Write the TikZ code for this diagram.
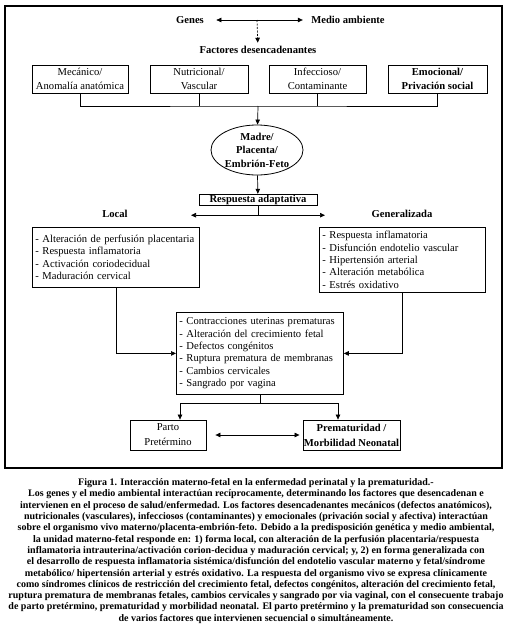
\documentclass[tikz,border=0pt]{standalone}
\usepackage{fontspec}
\setmainfont{Liberation Serif}
\usetikzlibrary{arrows.meta,shapes.geometric}

\begin{document}
\begin{tikzpicture}[x=1pt,y=-1pt,>={Triangle[length=5pt,width=4.5pt]},
  every node/.style={font=\fontsize{10.6}{12.4}\selectfont},
  head/.style={font=\fontsize{10.6}{12.4}\selectfont\bfseries},
  link/.style={line width=.7pt},
  factor/.style={draw,line width=.8pt,minimum width=97pt,minimum height=28pt,
    align=center,inner sep=1pt,font=\fontsize{10.6}{13.5}\selectfont},
  listbox/.style={draw,line width=.8pt,align=left,inner xsep=3pt,
    text width=161pt,anchor=north west},
  outcome/.style={draw,line width=.8pt,minimum height=30pt,align=center,
    inner sep=1pt,font=\fontsize{10.6}{15}\selectfont}]
  \useasboundingbox (0,0) rectangle (519,635);
  \draw[line width=1.1pt] (5,6) rectangle (502,468);

  \node[head] (genes) at (190,20) {Genes};
  \node[head] (medio) at (348,20) {Medio ambiente};
  \draw[<->,link] ([xshift=9pt]genes.east) -- coordinate[pos=.47] (mid)
    ([xshift=-5pt]medio.west);
  \node[head] (factores) at (258,50) {Factores desencadenantes};
  \draw[->,link,dash pattern=on 2pt off 1.5pt] (mid) -- (factores);

  \node[factor,minimum width=96pt] (mec) at (80,79) {Mecánico/\\Anomalía anatómica};
  \node[factor,minimum width=98pt] (nut) at (199,79) {Nutricional/\\Vascular};
  \node[factor] (inf) at (317.5,79) {Infeccioso/\\Contaminante};
  \node[factor,minimum width=99pt,font=\fontsize{10.6}{13.5}\selectfont\bfseries]
    (emo) at (437.5,79) {Emocional/\\Privación social};
  \coordinate (bus) at (258,106);
  \draw[link] (mec.south) |- (bus) -| (emo.south);
  \draw[link] (nut.south) -- (nut.south |- bus);
  \draw[link] (inf.south) -- (inf.south |- bus);

  \node[ellipse,draw,line width=.8pt,minimum width=92pt,minimum height=50pt,
    inner sep=0pt,align=center,font=\fontsize{10.6}{13.5}\selectfont\bfseries]
    (madre) at (257,150) {Madre/\\Placenta/\\Embrión-Feto};
  \draw[->,link] (bus) -- (madre);

  \node[draw,line width=.8pt,head,minimum width=118pt,inner sep=1pt]
    (resp) at (258,200) {Respuesta adaptativa};
  \draw[->,link] (madre) -- (resp);
  \draw[link] (resp.south) -- ++(0,9) coordinate (fork);
  \draw[<->,link] ([xshift=-67pt]fork) -- ([xshift=67pt]fork);
  \node[head] (local) at (115,214) {Local};
  \node[head] (general) at (402,214) {Generalizada};

  \node[listbox,minimum height=60pt] (lbox) at (32,227)
    {- Alteración de perfusión placentaria\\- Respuesta inflamatoria\\
     - Activación coriodecidual\\- Maduración cervical};
  \node[listbox,text width=160pt,minimum height=65pt] (rbox) at (319,227)
    {- Respuesta inflamatoria\\- Disfunción endotelio vascular\\
     - Hipertensión arterial\\- Alteración metabólica\\- Estrés oxidativo};
  \node[listbox,minimum height=82pt] (cbox) at (176,312)
    {- Contracciones uterinas prematuras\\- Alteración del crecimiento fetal\\
     - Defectos congénitos\\- Ruptura prematura de membranas\\
     - Cambios cervicales\\- Sangrado por vagina};
  \draw[->,link] (lbox.south) |- (cbox.west);
  \draw[->,link] (rbox.south) |- (cbox.east);

  \node[outcome,minimum width=76pt] (parto) at (168,435) {Parto\\Pretérmino};
  \node[outcome,minimum width=93pt,font=\fontsize{10.6}{15}\selectfont\bfseries]
    (premat) at (351.5,435) {Prematuridad /\\Morbilidad Neonatal};
  \draw[link] (cbox.south) -- ++(0,9) coordinate (split);
  \draw[->,link] (split) -| ([xshift=12pt]parto.north);
  \draw[->,link] (split) -| ([xshift=-13.5pt]premat.north);
  \draw[<->,link,shorten <=9pt,shorten >=3pt] (parto) -- (premat);

  \node[align=center,font=\fontsize{10}{11.3}\selectfont\bfseries] (caption)
    at (256,551) {Figura 1. Interacción materno-fetal en la enfermedad perinatal y la prematuridad.-\\
    Los genes y el medio ambiental interactúan recíprocamente, determinando los factores que desencadenan e\\
    intervienen en el proceso de salud/enfermedad. Los factores desencadenantes mecánicos (defectos anatómicos),\\
    nutricionales (vasculares), infecciosos (contaminantes) y emocionales (privación social y afectiva) interactúan\\
    sobre el organismo vivo materno/placenta-embrión-feto. Debido a la predisposición genética y medio ambiental,\\
    la unidad materno-fetal responde en: 1) forma local, con alteración de la perfusión placentaria/respuesta\\
    inflamatoria intrauterina/activación corion-decidua y maduración cervical; y, 2) en forma generalizada con\\
    el desarrollo de respuesta inflamatoria sistémica/disfunción del endotelio vascular materno y fetal/síndrome\\
    metabólico/ hipertensión arterial y estrés oxidativo. La respuesta del organismo vivo se expresa clínicamente\\
    como síndromes clínicos de restricción del crecimiento fetal, defectos congénitos, alteración del crecimiento fetal,\\
    ruptura prematura de membranas fetales, cambios cervicales y sangrado por via vaginal, con el consecuente trabajo\\
    de parto pretérmino, prematuridad y morbilidad neonatal. El parto pretérmino y la prematuridad son consecuencia\\
    de varios factores que intervienen secuencial o simultáneamente.};
\end{tikzpicture}
\end{document}
